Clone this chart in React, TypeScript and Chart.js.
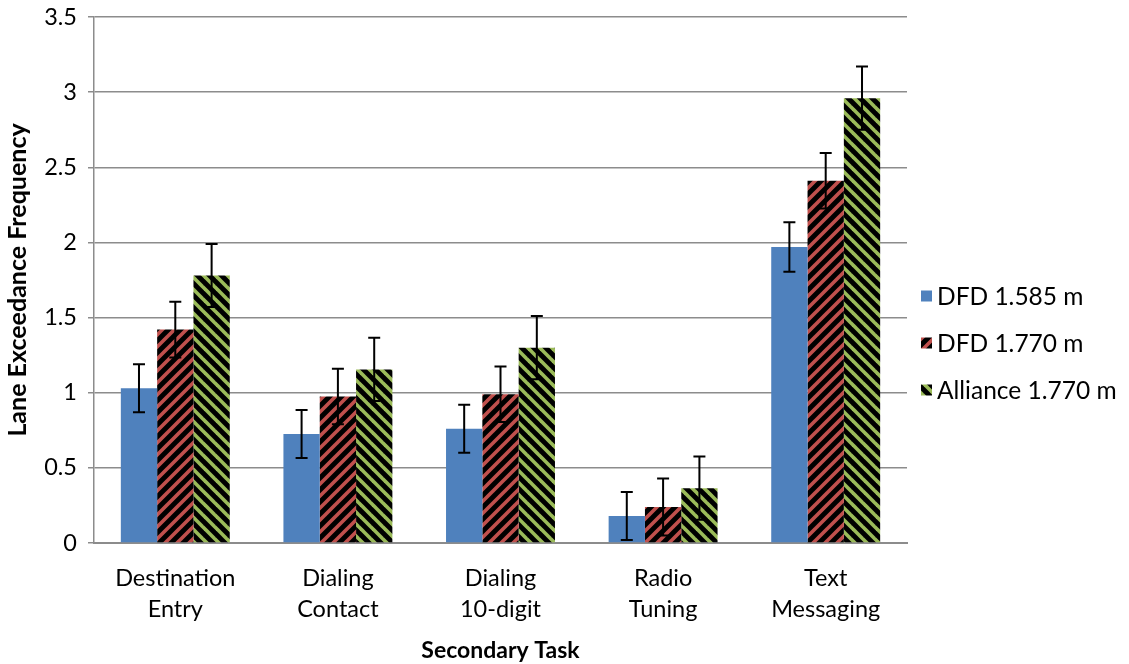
import React, { useEffect, useRef } from 'react';
import { Chart, registerables } from 'chart.js';
Chart.register(...registerables);

const categories: string[][] = [
  ['Destination', 'Entry'],
  ['Dialing', 'Contact'],
  ['Dialing', '10-digit'],
  ['Radio', 'Tuning'],
  ['Text', 'Messaging'],
];
const seriesLabels = ['DFD 1.585 m', 'DFD 1.770 m', 'Alliance 1.770 m'];
const dfd1585 = [1.03, 0.725, 0.76, 0.18, 1.97];
const dfd1585Err = [0.16, 0.16, 0.16, 0.16, 0.165];
const dfd1770 = [1.42, 0.975, 0.99, 0.24, 2.41];
const dfd1770Err = [0.185, 0.185, 0.185, 0.19, 0.185];
const alliance1770 = [1.78, 1.155, 1.3, 0.365, 2.96];
const alliance1770Err = [0.21, 0.21, 0.21, 0.21, 0.21];
const yTicksMax = 3.5;
const yTicksStep = 0.5;

const BLUE = '#4F81BD';
const RED = '#C0504D';
const GREEN = '#9BBB59';
const FONT = 'Lato, "Liberation Sans", sans-serif';
const FS = 23.5;

function makeStripe(color: string, dir: 'up' | 'down'): CanvasPattern | string {
  const size = 12;
  const c = document.createElement('canvas');
  c.width = size;
  c.height = size;
  const g = c.getContext('2d');
  if (!g) return color;
  g.fillStyle = '#000';
  g.fillRect(0, 0, size, size);
  g.strokeStyle = color;
  g.lineWidth = 3.6;
  g.lineCap = 'square';
  const segs: number[][] =
    dir === 'up'
      ? [[0, size, size, 0], [-size / 2, size / 2, size / 2, -size / 2], [size / 2, size * 1.5, size * 1.5, size / 2]]
      : [[0, 0, size, size], [-size / 2, size / 2, size / 2, size * 1.5], [size / 2, -size / 2, size * 1.5, size / 2]];
  for (const s of segs) {
    g.beginPath();
    g.moveTo(s[0], s[1]);
    g.lineTo(s[2], s[3]);
    g.stroke();
  }
  const p = g.createPattern(c, 'repeat');
  return p || color;
}

const errorBarPlugin = {
  id: 'errorBars',
  afterDatasetsDraw(chart: any) {
    const ctx = chart.ctx;
    const yScale = chart.scales.y;
    ctx.save();
    ctx.strokeStyle = '#000';
    ctx.lineWidth = 2;
    chart.data.datasets.forEach((ds: any, i: number) => {
      const meta = chart.getDatasetMeta(i);
      if (meta.hidden) return;
      meta.data.forEach((bar: any, j: number) => {
        const v = ds.data[j];
        const e = ds.errors[j];
        const x = bar.x;
        const yT = yScale.getPixelForValue(v + e);
        const yB = yScale.getPixelForValue(Math.max(0, v - e));
        const cap = 6;
        ctx.beginPath();
        ctx.moveTo(x, yT);
        ctx.lineTo(x, yB);
        ctx.moveTo(x - cap, yT);
        ctx.lineTo(x + cap, yT);
        ctx.moveTo(x - cap, yB);
        ctx.lineTo(x + cap, yB);
        ctx.stroke();
      });
    });
    ctx.restore();
  },
};

const legendPlugin = {
  id: 'sideLegend',
  afterDraw(chart: any) {
    const ctx = chart.ctx;
    const area = chart.chartArea;
    const x0 = area.right + 14;
    const spacing = 47;
    const n = chart.data.datasets.length;
    const yc = 343;
    ctx.save();
    ctx.font = `24.5px ${FONT}`;
    ctx.textBaseline = 'middle';
    chart.data.datasets.forEach((ds: any, i: number) => {
      const y = yc + (i - (n - 1) / 2) * spacing;
      ctx.fillStyle = ds.backgroundColor;
      ctx.fillRect(x0, y - 5.5, 11, 11);
      ctx.fillStyle = '#000';
      ctx.fillText(ds.label, x0 + 16, y + 1);
    });
    ctx.restore();
  },
};

export default function App() {
  const ref = useRef<HTMLCanvasElement | null>(null);
  useEffect(() => {
    document.body.style.margin = '0';
    const canvas = ref.current;
    if (!canvas) return;
    Chart.defaults.color = '#000';
    const chart = new Chart(canvas, {
      type: 'bar',
      data: {
        labels: categories as any,
        datasets: [
          { label: seriesLabels[0], data: dfd1585, errors: dfd1585Err, backgroundColor: BLUE } as any,
          { label: seriesLabels[1], data: dfd1770, errors: dfd1770Err, backgroundColor: makeStripe(RED, 'up') } as any,
          { label: seriesLabels[2], data: alliance1770, errors: alliance1770Err, backgroundColor: makeStripe(GREEN, 'down') } as any,
        ],
      },
      options: {
        animation: false,
        responsive: false,
        maintainAspectRatio: false,
        layout: { padding: { top: 17, right: 222, left: 0, bottom: 0 } },
        datasets: { bar: { categoryPercentage: 0.67, barPercentage: 1 } },
        plugins: {
          legend: { display: false },
          tooltip: { enabled: false },
        },
        scales: {
          x: {
            grid: { display: false },
            border: { display: true, color: '#8c8c8c', width: 2 },
            ticks: { font: { family: FONT, size: FS, lineHeight: 1.32 }, padding: 12, maxRotation: 0, color: '#000' },
            title: { display: true, text: 'Secondary Task', font: { family: FONT, size: 23, weight: 'bold' }, padding: { top: 0, bottom: 0 }, color: '#000' },
            afterFit: (s: any) => { s.height = 121; s.paddingLeft = 0; s.paddingRight = 0; },
          },
          y: {
            min: 0,
            max: yTicksMax,
            ticks: { stepSize: yTicksStep, font: { family: FONT, size: FS }, padding: 11, color: '#000', callback: (v: any) => String(v) },
            grid: { color: '#8c8c8c', lineWidth: 1.5, tickLength: 6 },
            border: { display: true, color: '#8c8c8c', width: 1.5 },
            title: { display: true, text: 'Lane Exceedance Frequency', font: { family: FONT, size: 25, weight: 'bold' }, padding: { top: 3, bottom: 0 }, color: '#000' },
            afterFit: (s: any) => { s.width = 94; s.paddingTop = 0; s.paddingBottom = 0; },
          },
        },
      } as any,
      plugins: [errorBarPlugin, legendPlugin],
    });
    return () => chart.destroy();
  }, []);
  return (
    <div style={{ width: 1129, height: 664 }}>
      <canvas ref={ref} width={1129} height={664} style={{ width: 1129, height: 664, display: 'block' }} />
    </div>
  );
}
